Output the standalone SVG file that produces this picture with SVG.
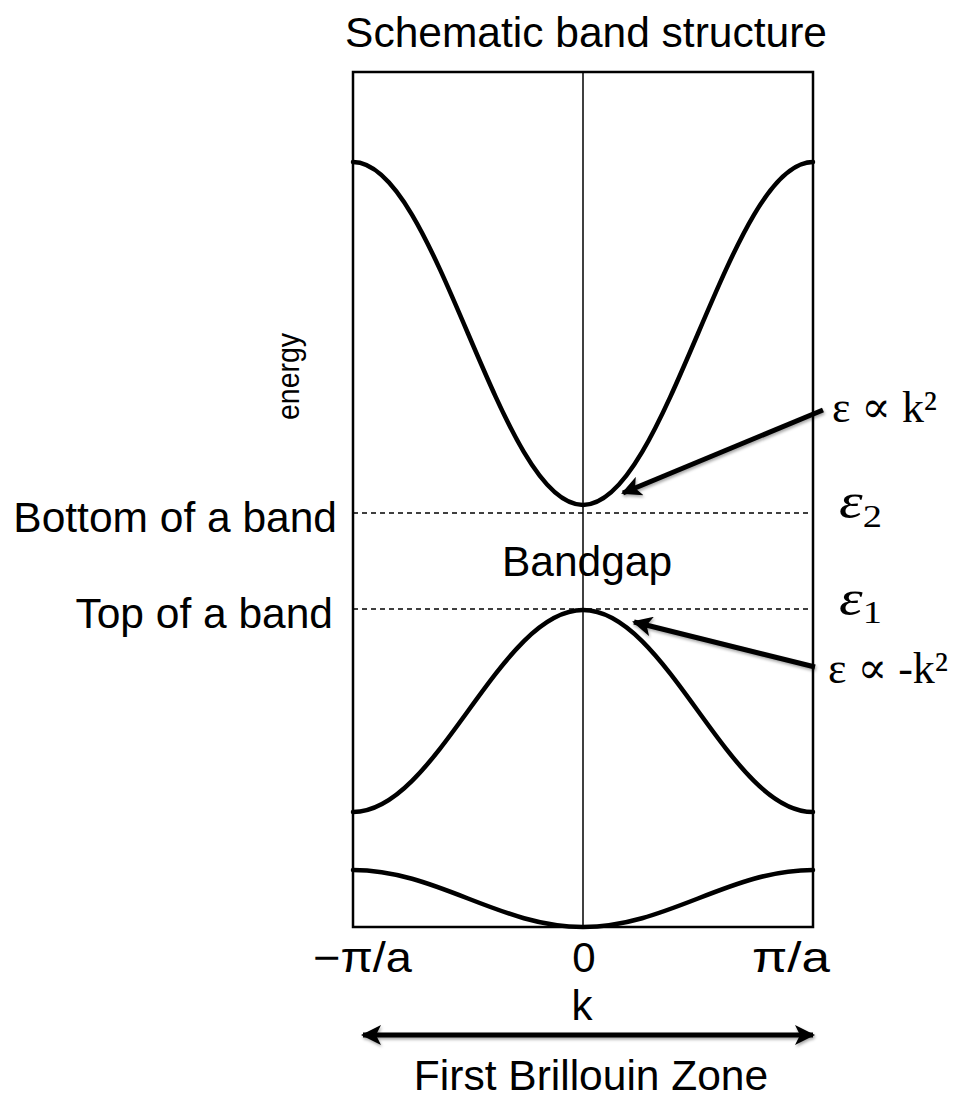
<svg xmlns="http://www.w3.org/2000/svg" width="962" height="1102" viewBox="0 0 962 1102">
  <style>
    .sans { font-family: "Liberation Sans", Arial, sans-serif; fill: #000; }
    .serif { font-family: "Liberation Serif", "DejaVu Serif", serif; fill: #000; }
    .band { fill: none; stroke: #000; stroke-width: 4.5; stroke-linecap: round; }
    .dash { stroke: #000; stroke-width: 1.5; stroke-dasharray: 5 4; fill: none; }
    .arrow { stroke: #000; stroke-width: 5; fill: none; }
  </style>
  <defs>
    <marker id="head" viewBox="0 0 10 10" refX="9" refY="5" markerWidth="22" markerHeight="20" markerUnits="userSpaceOnUse" orient="auto-start-reverse">
      <path d="M0,0 L10,5 L0,10 L2.5,5 Z" fill="#000"/>
    </marker>
    <filter id="shadow" filterUnits="userSpaceOnUse" x="0" y="0" width="962" height="1102">
      <feDropShadow dx="1" dy="2" stdDeviation="1.5" flood-color="#000" flood-opacity="0.35"/>
    </filter>
  </defs>

  <rect width="962" height="1102" fill="#fff"/>

  <g id="title">
    <text class="sans" x="586" y="47" font-size="42.5" text-anchor="middle">Schematic band structure</text>
  </g>

  <g id="frame">
    <rect x="353" y="72" width="460" height="855" fill="none" stroke="#000" stroke-width="2.5"/>
    <line x1="583" y1="72" x2="583" y2="927" stroke="#000" stroke-width="1.5"/>
  </g>

  <g id="energy-label">
    <text class="sans" transform="translate(299,376.5) rotate(-90)" font-size="31" text-anchor="middle" textLength="87" lengthAdjust="spacingAndGlyphs">energy</text>
  </g>

  <g id="upper-band">
    <path class="band" d="M353,162 C394.62,162 430.5,245.64 468,333.5 C505.5,421.36 541.38,505 583,505 C624.62,505 660.5,421.36 698,333.5 C735.5,245.64 771.38,162 813,162"/>
  </g>
  <g id="middle-band">
    <path class="band" d="M353,812 C394.62,812 430.5,762.74 468,711 C505.5,659.26 541.38,610 583,610 C624.62,610 660.5,659.26 698,711 C735.5,762.74 771.38,812 813,812"/>
  </g>
  <g id="lower-band">
    <path class="band" d="M353,870 C394.62,870 430.5,883.9 468,898.5 C505.5,913.1 541.38,927 583,927 C624.62,927 660.5,913.1 698,898.5 C735.5,883.9 771.38,870 813,870"/>
  </g>

  <g id="levels">
    <line class="dash" x1="353" y1="513" x2="813" y2="513"/>
    <line class="dash" x1="353" y1="609" x2="813" y2="609"/>
  </g>

  <g id="left-labels">
    <text class="sans" x="337" y="532" font-size="42.5" text-anchor="end">Bottom of a band</text>
    <text class="sans" x="333" y="628" font-size="42.5" text-anchor="end">Top of a band</text>
  </g>

  <g id="bandgap">
    <text class="sans" x="587" y="576" font-size="42.5" text-anchor="middle">Bandgap</text>
  </g>

  <g id="right-labels">
    <text class="serif" x="832" y="422" font-size="44" textLength="105" lengthAdjust="spacingAndGlyphs">ε ∝ k²</text>
    <text class="serif" x="828" y="683" font-size="44" textLength="120" lengthAdjust="spacingAndGlyphs">ε ∝ -k²</text>
    <text class="serif" transform="translate(839,518) scale(1.2,1)" font-size="50" font-style="italic">ε<tspan font-size="32" font-style="normal" dy="9">2</tspan></text>
    <text class="serif" transform="translate(839,615) scale(1.2,1)" font-size="50" font-style="italic">ε<tspan font-size="32" font-style="normal" dy="8">1</tspan></text>
  </g>

  <g id="connectors">
    <line class="arrow" x1="823" y1="410" x2="623" y2="493" marker-end="url(#head)" filter="url(#shadow)"/>
    <line class="arrow" x1="815" y1="667" x2="634" y2="622" marker-end="url(#head)" filter="url(#shadow)"/>
    <line class="arrow" x1="363" y1="1035" x2="813" y2="1035" marker-start="url(#head)" marker-end="url(#head)" filter="url(#shadow)"/>
  </g>

  <g id="axis-labels">
    <text class="sans" x="313" y="972" font-size="42" textLength="99" lengthAdjust="spacingAndGlyphs">−π/a</text>
    <text class="sans" x="584" y="972" font-size="42" text-anchor="middle">0</text>
    <text class="sans" x="752" y="972" font-size="42" textLength="78" lengthAdjust="spacingAndGlyphs">π/a</text>
    <text class="sans" x="582" y="1020" font-size="42" text-anchor="middle">k</text>
    <text class="sans" x="591" y="1090" font-size="42.5" text-anchor="middle">First Brillouin Zone</text>
  </g>
</svg>
